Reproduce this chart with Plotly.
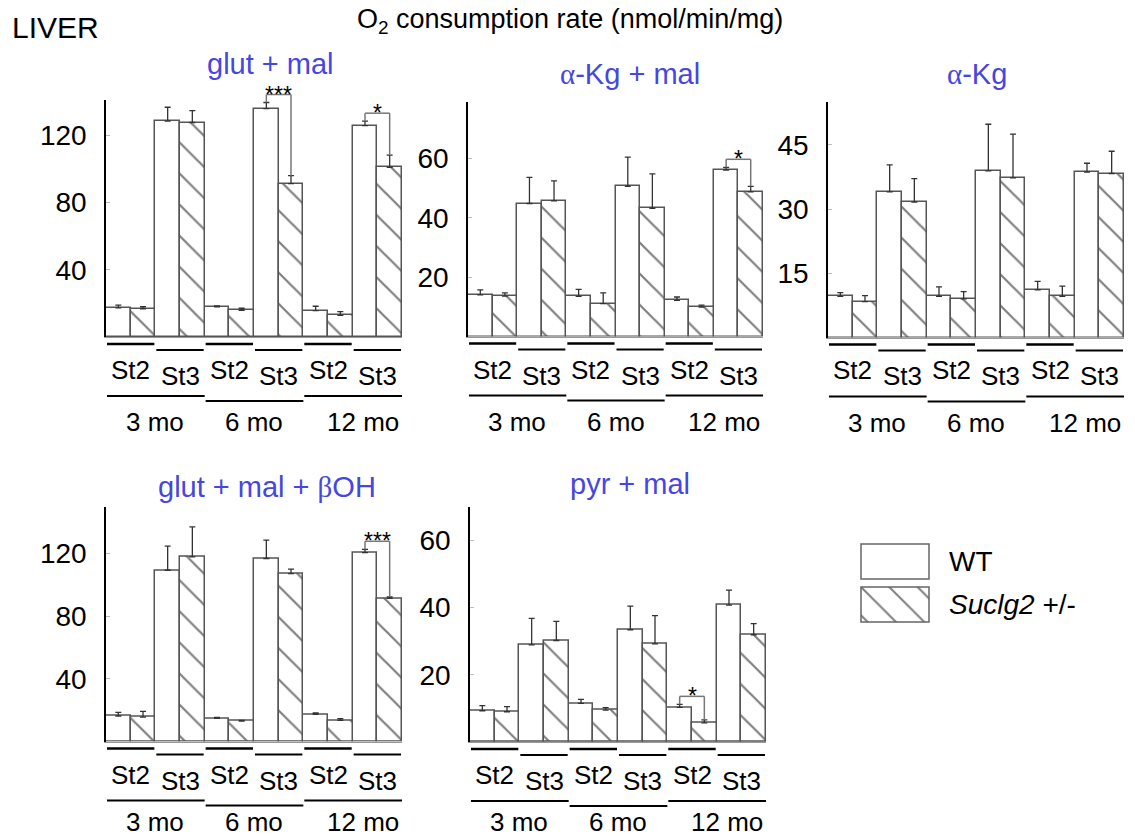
import plotly.graph_objects as go

# ---------------- data ----------------
categories = ["3 mo St2", "3 mo St3", "6 mo St2", "6 mo St3", "12 mo St2", "12 mo St3"]
state_labels = ["St2", "St3", "St2", "St3", "St2", "St3"]
age_labels = ["3 mo", "6 mo", "12 mo"]
series_names = ["WT", "Suclg2 +/-"]

glut_mal_wt = [17.3, 128.4, 17.9, 135.9, 15.7, 125.8]
glut_mal_wt_err = [1.7, 8.3, 0.6, 3.6, 2.6, 2.6]
glut_mal_suc = [16.7, 127.6, 15.9, 91.3, 12.9, 101.0]
glut_mal_suc_err = [1.3, 7.1, 1.2, 4.7, 2.2, 7.2]

akg_mal_wt = [14.0, 44.8, 13.5, 50.6, 12.2, 56.1]
akg_mal_wt_err = [1.7, 8.8, 2.4, 9.8, 1.1, 0.9]
akg_mal_suc = [13.6, 45.7, 11.1, 43.2, 9.9, 48.7]
akg_mal_suc_err = [1.1, 6.7, 3.6, 11.6, 0.7, 1.9]

akg_wt = [9.6, 34.0, 9.6, 38.9, 11.1, 38.6]
akg_wt_err = [0.9, 6.3, 2.2, 10.9, 2.0, 2.1]
akg_suc = [8.4, 31.6, 9.0, 37.3, 9.6, 38.3]
akg_suc_err = [1.4, 5.5, 1.7, 10.2, 2.4, 5.2]

gmb_wt = [16.3, 109.4, 14.8, 116.9, 17.4, 120.7]
gmb_wt_err = [2.3, 15.4, 0.6, 11.7, 0.8, 2.1]
gmb_suc = [15.6, 117.9, 13.1, 107.3, 13.5, 91.4]
gmb_suc_err = [3.7, 19.2, 0.3, 2.8, 1.1, 1.0]

pyr_wt = [9.3, 28.9, 11.5, 33.4, 10.3, 40.7]
pyr_wt_err = [1.5, 7.9, 1.2, 7.0, 0.9, 4.5]
pyr_suc = [9.0, 30.2, 9.5, 29.2, 5.7, 31.9]
pyr_suc_err = [1.5, 5.7, 0.7, 8.4, 0.9, 3.3]

# significance marks: (category index, label)
glut_mal_sig = [(3, "***"), (5, "*")]
akg_mal_sig = [(5, "*")]
akg_sig = []
gmb_sig = [(5, "***")]
pyr_sig = [(4, "*")]

# ---------------- layout helpers ----------------
W, H = 1135, 836
FONT = "Liberation Sans, Arial, sans-serif"
SERIF = "Liberation Serif, Times New Roman, serif"
BLUE = "#4646E0"


def fx(px):
    return px / W


def fy(py):
    return 1 - py / H


def greek(ch):
    return f"<span style='font-family:{SERIF}'>{ch}</span>"


HATCH = dict(shape="\\", fgcolor="#000", bgcolor="white", size=22, solidity=0.1)

panels = [
    dict(title="glut + mal", wt=glut_mal_wt, wte=glut_mal_wt_err, suc=glut_mal_suc, suce=glut_mal_suc_err,
         ticks=[40, 80, 120], ymax=141, box=(106, 402, 100, 337), tpos=(270, 64), sig=glut_mal_sig, moff=85),
    dict(title=greek("α") + "-Kg + mal", wt=akg_mal_wt, wte=akg_mal_wt_err, suc=akg_mal_suc, suce=akg_mal_suc_err,
         ticks=[20, 40, 60], ymax=79, box=(468, 763, 102, 336.5), tpos=(630, 74), sig=akg_mal_sig, moff=85),
    dict(title=greek("α") + "-Kg", wt=akg_wt, wte=akg_wt_err, suc=akg_suc, suce=akg_suc_err,
         ticks=[15, 30, 45], ymax=55, box=(828, 1124, 102, 337.5), tpos=(977, 74), sig=akg_sig, moff=85),
    dict(title="glut + mal + " + greek("β") + "OH", wt=gmb_wt, wte=gmb_wt_err, suc=gmb_suc, suce=gmb_suc_err,
         ticks=[40, 80, 120], ymax=150, box=(106, 402, 506.7, 741.5), tpos=(267, 487), sig=gmb_sig, moff=80),
    dict(title="pyr + mal", wt=pyr_wt, wte=pyr_wt_err, suc=pyr_suc, suce=pyr_suc_err,
         ticks=[20, 40, 60], ymax=70, box=(470, 766, 506.7, 742), tpos=(630, 484), sig=pyr_sig, moff=80),
]

fig = go.Figure()
shapes = []
annotations = []
layout = {}

for k, p in enumerate(panels, start=1):
    xa = "x" if k == 1 else f"x{k}"
    ya = "y" if k == 1 else f"y{k}"
    x0, x1, ytop, ybot = p["box"]
    fig.add_trace(go.Bar(
        x=categories, y=p["wt"], name=series_names[0], xaxis=xa, yaxis=ya, showlegend=False,
        offsetgroup="wt",
        marker=dict(color="white", line=dict(color="#555", width=1.5)),
        error_y=dict(type="data", array=p["wte"], arrayminus=[0] * len(p["wte"]), symmetric=False,
                     color="#333", thickness=1.3, width=3),
    ))
    fig.add_trace(go.Bar(
        x=categories, y=p["suc"], name=series_names[1], xaxis=xa, yaxis=ya, showlegend=False,
        offsetgroup="suc",
        marker=dict(color="white", line=dict(color="#555", width=1.5), pattern=HATCH),
        error_y=dict(type="data", array=p["suce"], arrayminus=[0] * len(p["suce"]), symmetric=False,
                     color="#333", thickness=1.3, width=3),
    ))
    layout["xaxis" if k == 1 else f"xaxis{k}"] = dict(
        domain=[fx(x0), fx(x1)], anchor=ya, type="category", range=[-0.5, 5.5],
        showline=True, linecolor="#999", linewidth=1, showticklabels=False, ticks="",
        showgrid=False, zeroline=False, fixedrange=True)
    layout["yaxis" if k == 1 else f"yaxis{k}"] = dict(
        domain=[fy(ybot), fy(ytop)], anchor=xa, range=[0, p["ymax"]], tickvals=p["ticks"],
        showline=True, linecolor="black", linewidth=1.5, ticks="inside", ticklen=4, tickcolor="#bbb",
        showgrid=False, zeroline=False, tickfont=dict(family=FONT, size=28, color="black"),
        ticklabelstandoff=12, fixedrange=True)

    # panel title
    annotations.append(dict(text=p["title"], x=fx(p["tpos"][0]), y=fy(p["tpos"][1]), xref="paper", yref="paper",
                            xanchor="center", yanchor="middle", showarrow=False,
                            font=dict(family=FONT, size=29, color=BLUE)))

    # state labels & lines
    for i, lab in enumerate(state_labels):
        st2 = (i % 2 == 0)
        ly = ybot + (7 if st2 else 13)
        shapes.append(dict(type="line", xref=xa, yref="paper", x0=i - 0.48, x1=i + 0.48,
                           y0=fy(ly), y1=fy(ly), line=dict(color="black", width=2.5 if st2 else 2)))
        annotations.append(dict(text=lab, x=i, y=fy(ybot + (33 if st2 else 39)), xref=xa, yref="paper",
                                xanchor="center", yanchor="middle", showarrow=False,
                                font=dict(family=FONT, size=26, color="black")))
    # age labels & lines
    for j, lab in enumerate(age_labels):
        ly = ybot + (64 if j == 1 else 59)
        shapes.append(dict(type="line", xref=xa, yref="paper", x0=2 * j - 0.48, x1=2 * j + 1.5,
                           y0=fy(ly), y1=fy(ly), line=dict(color="black", width=2)))
        annotations.append(dict(text=lab, x=2 * j + 0.5, y=fy(ybot + p["moff"]), xref=xa, yref="paper",
                                xanchor="center", yanchor="middle", showarrow=False,
                                xshift=10 if j == 2 else 0,
                                font=dict(family=FONT, size=26, color="black")))

    # significance brackets (drawn in paper coordinates so they may rise above the axis top)
    px_per_unit = (ybot - ytop) / p["ymax"]

    def to_py(v):
        return fy(ybot - v * px_per_unit)

    for i, lab in p["sig"]:
        top_wt = p["wt"][i] + p["wte"][i]
        top_suc = p["suc"][i] + p["suce"][i]
        by_px = ybot - max(top_wt, top_suc) * px_per_unit - 8
        xl, xr = i - 0.25, i + 0.25
        for (ax0, ay0, ax1, ay1) in [(xl, to_py(top_wt), xl, fy(by_px)),
                                     (xl, fy(by_px), xr, fy(by_px)),
                                     (xr, fy(by_px), xr, to_py(top_suc))]:
            shapes.append(dict(type="line", xref=xa, yref="paper", x0=ax0, y0=ay0, x1=ax1, y1=ay1,
                               line=dict(color="#777", width=1.5)))
        annotations.append(dict(text=lab, x=i, y=fy(by_px), xref=xa, yref="paper", xanchor="center",
                                yanchor="middle", showarrow=False,
                                font=dict(family=FONT, size=23, color="black")))

# ---------------- legend (drawn as two tiny axes) ----------------
leg_boxes = [(861, 929, 544, 579), (861, 929, 587, 622)]
for n, (lx0, lx1, ly0, ly1) in enumerate(leg_boxes):
    k = 6 + n
    marker = dict(color="white", line=dict(color="white", width=0))
    if n == 1:
        marker["pattern"] = dict(HATCH, size=20)
    fig.add_trace(go.Bar(x=[0], y=[1], width=[1], xaxis=f"x{k}", yaxis=f"y{k}", marker=marker,
                         showlegend=False, cliponaxis=False, hoverinfo="skip"))
    layout[f"xaxis{k}"] = dict(domain=[fx(lx0), fx(lx1)], anchor=f"y{k}", range=[-0.5, 0.5], visible=False,
                               fixedrange=True)
    layout[f"yaxis{k}"] = dict(domain=[fy(ly1), fy(ly0)], anchor=f"x{k}", range=[0, 1], visible=False,
                               fixedrange=True)
    shapes.append(dict(type="rect", xref="paper", yref="paper", x0=fx(lx0), x1=fx(lx1), y0=fy(ly1), y1=fy(ly0),
                       line=dict(color="#666", width=1.5), fillcolor="rgba(0,0,0,0)"))
    annotations.append(dict(text=series_names[n] if n == 0 else "<i>Suclg2</i> +/-",
                            x=fx(947), y=fy((ly0 + ly1) / 2), xref="paper", yref="paper",
                            xanchor="left", yanchor="middle", showarrow=False,
                            font=dict(family=FONT, size=28, color="black")))

# ---------------- header texts ----------------
annotations.append(dict(text="LIVER", x=fx(10), y=fy(27), xref="paper", yref="paper", xanchor="left",
                        yanchor="middle", showarrow=False, font=dict(family=FONT, size=30, color="black")))
annotations.append(dict(text="O<sub>2</sub> consumption rate (nmol/min/mg)", x=fx(570), y=fy(21),
                        xref="paper", yref="paper", xanchor="center", yanchor="middle", showarrow=False,
                        font=dict(family=FONT, size=27, color="black")))

fig.update_layout(
    width=W, height=H, margin=dict(l=0, r=0, t=0, b=0),
    paper_bgcolor="white", plot_bgcolor="white",
    barmode="group", bargap=0, bargroupgap=0,
    shapes=shapes, annotations=annotations,
    font=dict(family=FONT),
    **layout,
)

fig.write_html("out.html")
